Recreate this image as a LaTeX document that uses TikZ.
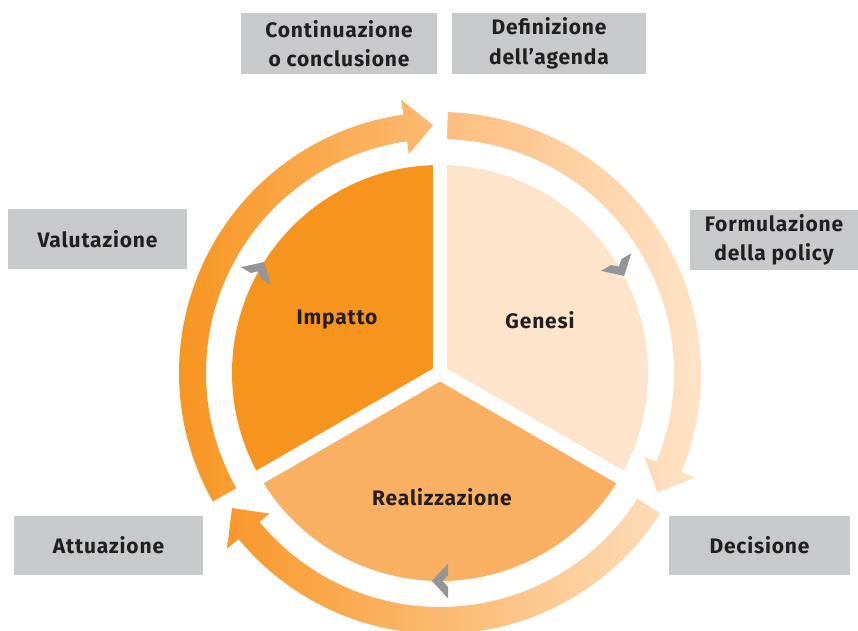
\documentclass[tikz,border=0pt]{standalone}
\usepackage{fontspec}
\setmainfont{Fira Sans}[LetterSpace=4]
\usetikzlibrary{calc}
\definecolor{boxgray}{RGB}{200,201,202}
\definecolor{txt}{RGB}{35,31,32}
\definecolor{impatto}{RGB}{247,148,29}
\definecolor{genesi}{RGB}{253,228,202}
\definecolor{realiz}{RGB}{250,176,99}
\definecolor{chevgray}{RGB}{147,149,152}
\definecolor{aL}{RGB}{247,148,29}
\definecolor{aR}{RGB}{252,186,114}
\definecolor{bL}{RGB}{253,190,126}
\definecolor{bR}{RGB}{254,229,203}
\definecolor{cL}{RGB}{248,152,42}
\definecolor{cR}{RGB}{254,220,184}
\newcommand{\ringarrow}[3]{%
  \pgfmathsetmacro{\hb}{#2+6.5}%
  \shade[#3] (#1:261pt) arc[start angle=#1, end angle=\hb, radius=261pt]
    -- (\hb:276pt) -- (#2:248pt) -- (\hb:221pt) -- (\hb:234pt)
    arc[start angle=\hb, end angle=#1, radius=234pt] -- cycle;}
\newcommand{\chevron}[1]{%
  \fill[chevgray, shift={(#1:208pt)}, rotate=#1-90]
    (8,0) -- (-8,17.5) -- (-8,6) -- (-2.7,0) -- (-8,-6) -- (-8,-17.5) -- cycle;}
\begin{document}
\begin{tikzpicture}[x=1pt,y=1pt,
  lbl/.style={fill=boxgray, text=txt, inner sep=0pt, align=center,
    font=\fontsize{21}{29.5}\selectfont\bfseries},
  sector/.style={text=txt, font=\fontsize{21}{24}\selectfont\bfseries}]
\useasboundingbox (0,0) rectangle (858,630);
% label boxes
\node[lbl, minimum width=196pt, minimum height=61pt] (cont) at (339,586.5) {Continuazione\\o conclusione};
\node[lbl, minimum width=194pt, minimum height=61pt] (defi) at (549,586.5) {Definizione\\dell’agenda};
\node[lbl, minimum width=179pt, minimum height=59pt] (valu) at (97.5,391) {Valutazione};
\node[lbl, minimum width=168pt, minimum height=60pt] (form) at (774,390) {Formulazione\\della policy};
\node[lbl, minimum width=189pt, minimum height=59pt] (attu) at (108.5,84.5) {Attuazione};
\node[lbl, minimum width=181pt, minimum height=59pt] (deci) at (759.5,84.5) {Decisione};
\begin{scope}[shift={(440,257)}]
  % pie sectors
  \fill[impatto] (0,0) -- (90:208pt) arc[start angle=90, end angle=210, radius=208pt] -- cycle;
  \fill[genesi] (0,0) -- (-30:208pt) arc[start angle=-30, end angle=90, radius=208pt] -- cycle;
  \fill[realiz] (0,0) -- (210:208pt) arc[start angle=210, end angle=330, radius=208pt] -- cycle;
  \foreach \a in {90,210,330} \draw[white, line width=14.5pt] (0,0) -- (\a:222pt);
  % ring arrows
  \ringarrow{209.5}{91.6}{left color=aL, right color=aR}
  \ringarrow{88.3}{-28.8}{left color=bL, right color=bR}
  \ringarrow{-32.5}{-147}{left color=cL, right color=cR}
  % chevrons
  \chevron{30}
  \chevron{150}
  \chevron{270}
\end{scope}
\node[sector] (imp) at (337,310) {Impatto};
\node[sector] (gen) at (540,310) {Genesi};
\node[sector] (rea) at (442,133) {Realizzazione};
\end{tikzpicture}
\end{document}
